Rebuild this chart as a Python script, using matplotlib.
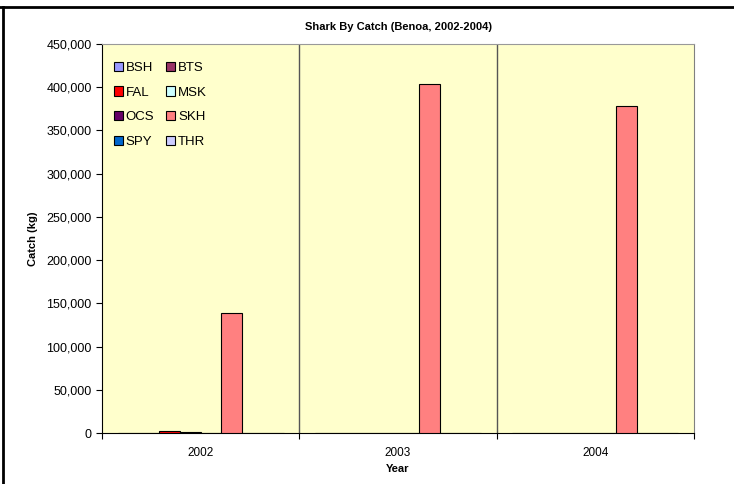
import matplotlib.pyplot as plt
from matplotlib.ticker import FuncFormatter

plt.rcParams["font.family"] = ["Liberation Sans", "DejaVu Sans"]

# Data
years = ["2002", "2003", "2004"]
species = ["BSH", "BTS", "FAL", "MSK", "OCS", "SKH", "SPY", "THR"]
colors = ["#9999FF", "#993366", "#FF0000", "#CCFFFF", "#660066", "#FF8080", "#0066CC", "#CCCCFF"]
bsh = [0, 0, 0]
bts = [0, 0, 0]
fal = [2500, 0, 0]
msk = [1000, 0, 0]
ocs = [0, 0, 0]
skh = [139000, 404000, 378000]
spy = [0, 0, 0]
thr = [0, 0, 0]
catch = [bsh, bts, fal, msk, ocs, skh, spy, thr]

# Figure
fig = plt.figure(figsize=(7.34, 4.84), dpi=100)
ax = fig.add_axes([102 / 734, 1 - 433 / 484, 592 / 734, 389 / 484])
ax.set_facecolor("#FFFFCC")

# Bars
n = len(species)
width = 1 / (n + 1.5)
bars = []
for i, (name, values) in enumerate(zip(species, catch)):
    offsets = [x + (i - (n - 1) / 2) * width for x in range(len(years))]
    bars.append(ax.bar(offsets, values, width, color=colors[i], edgecolor="black", linewidth=0.8,
                       label=name, zorder=3))

# Axes
ax.set_xlim(-0.5, len(years) - 0.5)
ax.set_ylim(0, 450000)
ax.set_yticks(range(0, 450001, 50000))
ax.yaxis.set_major_formatter(FuncFormatter(lambda v, p: f"{int(v):,}"))
ax.set_xticks([x - 0.5 for x in range(len(years) + 1)])
ax.set_xticklabels([])
ax.set_xticks(range(len(years)), minor=True)
ax.set_xticklabels(years, minor=True)
ax.tick_params(axis="x", which="minor", length=0, pad=10, labelsize=8.5)
ax.tick_params(axis="x", which="major", length=4, width=0.8)
ax.tick_params(axis="y", length=4, width=0.8, labelsize=9)
for x in range(1, len(years)):
    ax.axvline(x - 0.5, color="#555555", linewidth=1, zorder=2)

ax.spines["top"].set_color("#999999")
ax.spines["right"].set_color("#808080")
ax.spines["left"].set_color("black")
ax.spines["bottom"].set_color("black")

# Titles
ax.set_title("Shark By Catch (Benoa, 2002-2004)", fontsize=8, fontweight="bold", pad=10)
ax.set_xlabel("Year", fontsize=8, fontweight="bold", labelpad=4)
ax.set_ylabel("Catch (kg)", fontsize=8, fontweight="bold", labelpad=6)

# Legend (row-wise order like Excel)
order = [0, 2, 4, 6, 1, 3, 5, 7]
ax.legend([bars[i] for i in order], [species[i] for i in order], loc="upper left", ncol=2, frameon=False,
          fontsize=9.5, handlelength=0.7, handleheight=0.7, handletextpad=0.2, columnspacing=0.9,
          labelspacing=0.95, bbox_to_anchor=(0.0, 0.985))

# Frame lines
fig.add_artist(plt.Line2D([0, 1], [1 - 7 / 484, 1 - 7 / 484], transform=fig.transFigure, color="black", linewidth=2))
fig.add_artist(plt.Line2D([2.5 / 734, 2.5 / 734], [0, 1 - 7 / 484], transform=fig.transFigure, color="black", linewidth=2))

plt.savefig("out.png", dpi=100)
